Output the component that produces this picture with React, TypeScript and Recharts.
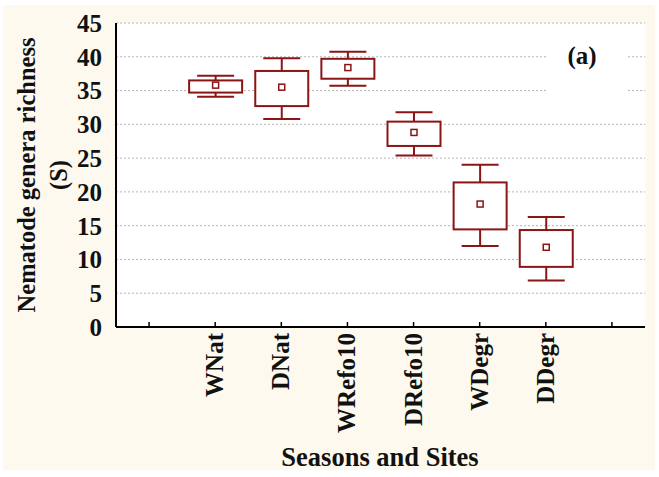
import { ComposedChart, Bar, XAxis, YAxis, CartesianGrid } from "recharts";

// 8 slots on the axis: first and last are empty, like the original plot
const sites = ["", "WNat", "DNat", "WRefo10", "DRefo10", "WDegr", "DDegr", " "];
const whiskerLow = [null, 34.1, 30.8, 35.7, 25.4, 12.0, 6.9, null];
const boxLow = [null, 34.7, 32.7, 36.75, 26.8, 14.45, 8.9, null];
const centre = [null, 35.8, 35.5, 38.4, 28.8, 18.2, 11.8, null];
const boxHigh = [null, 36.5, 37.9, 39.7, 30.4, 21.4, 14.35, null];
const whiskerHigh = [null, 37.2, 39.8, 40.75, 31.8, 24.0, 16.3, null];
const yTicks = [0, 5, 10, 15, 20, 25, 30, 35, 40, 45];

const data = sites.map((site, i) => ({
  site,
  range: whiskerLow[i] == null ? null : [whiskerLow[i], whiskerHigh[i]],
  boxLow: boxLow[i],
  centre: centre[i],
  boxHigh: boxHigh[i],
}));

const FONT = "'Liberation Serif', 'Times New Roman', serif";
const RED = "#8b1416";

const BoxShape = (props: any) => {
  const { x, y, width, height, payload } = props;
  if (!payload || !payload.range) return null;
  const [lo, hi] = payload.range;
  const k = height / (hi - lo);
  const py = (v: number) => y + (hi - v) * k;
  const cx = x + width / 2;
  const cap = 18.5;
  const top = py(payload.boxHigh);
  const bot = py(payload.boxLow);
  const c = py(payload.centre);
  return (
    <g stroke={RED} strokeWidth={2} fill="#fff">
      <line x1={cx} x2={cx} y1={y} y2={top} />
      <line x1={cx} x2={cx} y1={bot} y2={y + height} />
      <line x1={cx - cap} x2={cx + cap} y1={y} y2={y} />
      <line x1={cx - cap} x2={cx + cap} y1={y + height} y2={y + height} />
      <rect x={x} y={top} width={width} height={bot - top} />
      <rect x={cx - 3} y={c - 3} width={6} height={6} strokeWidth={1.5} />
    </g>
  );
};

const BottomTick = (props: any) => {
  const { x, y, payload } = props;
  return (
    <g>
      <line x1={x} x2={x} y1={y} y2={y - 5} stroke="#000" strokeWidth={1.5} />
      <text
        transform={`translate(${x + 8},${y + 6}) rotate(-90)`}
        textAnchor="end"
        fontFamily={FONT}
        fontWeight="bold"
        fontSize={25}
        fill="#111"
      >
        {payload.value}
      </text>
    </g>
  );
};

const TopTick = (props: any) => {
  const { x, y } = props;
  return <line x1={x} x2={x} y1={y} y2={y + 5} stroke="#000" strokeWidth={1.5} />;
};

const RightTick = (props: any) => {
  const { x, y } = props;
  return <line x1={x - 5} x2={x} y1={y} y2={y} stroke="#000" strokeWidth={1.5} />;
};

export default function App() {
  return (
    <div style={{ position: "absolute", left: 0, top: 0, width: 659, height: 477, background: "#fff" }}>
      <div style={{ position: "absolute", left: 3, top: 5, width: 652, height: 465, background: "#fdf9ee" }} />
      <div style={{ position: "absolute", left: 0, top: 0 }}>
        <ComposedChart width={659} height={477} data={data} margin={{ top: 23, right: 14, bottom: 0, left: 0 }}>
          <CartesianGrid vertical={false} fill="#fff" stroke="#b5b5b5" strokeDasharray="2 2" />
          <XAxis
            dataKey="site"
            height={150}
            interval={0}
            tickSize={0}
            tickMargin={0}
            tickLine={false}
            axisLine={{ stroke: "#000", strokeWidth: 2 }}
            tick={<BottomTick />}
          />
          <XAxis
            xAxisId="top"
            dataKey="site"
            orientation="top"
            height={0}
            interval={0}
            tickSize={0}
            tickMargin={0}
            tickLine={false}
            axisLine={{ stroke: "#000", strokeWidth: 2 }}
            tick={<TopTick />}
          />
          <YAxis
            width={116}
            domain={[0, 45]}
            ticks={yTicks}
            interval={0}
            tickLine={false}
            tickMargin={8}
            axisLine={{ stroke: "#000", strokeWidth: 2 }}
            tick={{ fontFamily: FONT, fontWeight: "bold", fontSize: 25, fill: "#111" }}
          />
          <YAxis
            yAxisId="right"
            orientation="right"
            width={0}
            domain={[0, 45]}
            ticks={yTicks}
            interval={0}
            tickSize={0}
            tickMargin={0}
            tickLine={false}
            axisLine={{ stroke: "#000", strokeWidth: 2 }}
            tick={<RightTick />}
          />
          <Bar dataKey="range" barSize={53} shape={<BoxShape />} isAnimationActive={false} />
          <rect x={547} y={45} width={79} height={50} fill="#fff" />
          <text x={582} y={64} textAnchor="middle" fontFamily={FONT} fontWeight="bold" fontSize={25} fill="#111">
            (a)
          </text>
          <text
            transform="translate(35,175) rotate(-90)"
            textAnchor="middle"
            fontFamily={FONT}
            fontWeight="bold"
            fontSize={24.5}
            fill="#111"
          >
            Nematode genera richness
          </text>
          <text
            transform="translate(67,175) rotate(-90)"
            textAnchor="middle"
            fontFamily={FONT}
            fontWeight="bold"
            fontSize={24.5}
            fill="#111"
          >
            (S)
          </text>
          <text x={380} y={466} textAnchor="middle" fontFamily={FONT} fontWeight="bold" fontSize={26.5} fill="#111">
            Seasons and Sites
          </text>
        </ComposedChart>
      </div>
    </div>
  );
}
